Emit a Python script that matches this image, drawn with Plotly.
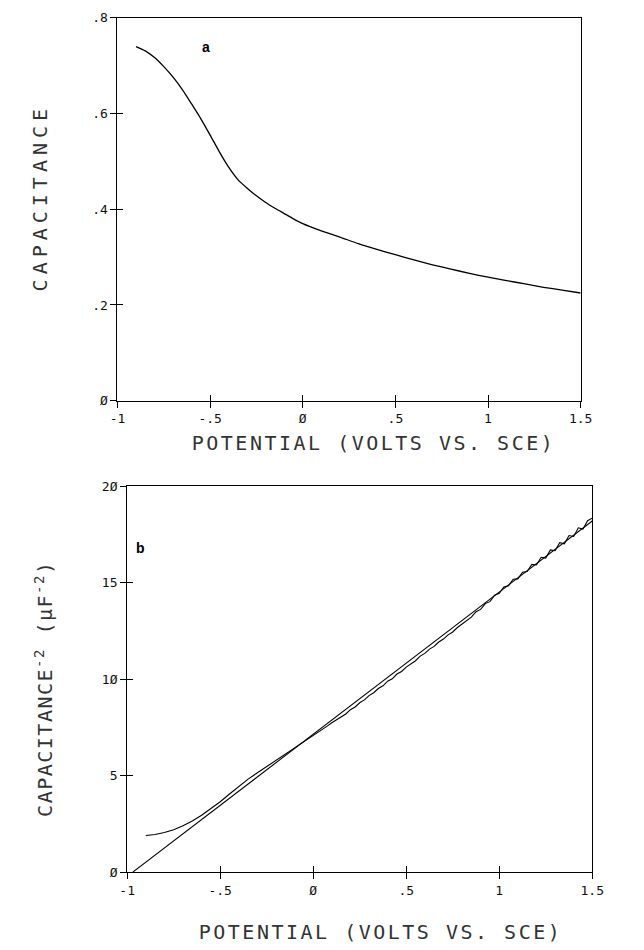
import plotly.graph_objects as go

# ---- data ----
pot_a = [-0.90, -0.85, -0.80, -0.75, -0.70, -0.65, -0.60, -0.55, -0.50, -0.45,
         -0.40, -0.35, -0.30, -0.25, -0.20, -0.15, -0.10, -0.05, 0.00, 0.10,
         0.20, 0.30, 0.40, 0.50, 0.60, 0.70, 0.80, 0.90, 1.00, 1.10,
         1.20, 1.30, 1.40, 1.50]
cap_a = [0.740, 0.731, 0.717, 0.698, 0.676, 0.650, 0.620, 0.589, 0.555, 0.520,
         0.488, 0.462, 0.444, 0.428, 0.414, 0.402, 0.391, 0.380, 0.370, 0.355,
         0.342, 0.328, 0.316, 0.305, 0.294, 0.284, 0.275, 0.266, 0.258, 0.251,
         0.244, 0.237, 0.231, 0.225]

pot_b = [-0.90, -0.85, -0.80, -0.75, -0.70, -0.65, -0.60, -0.55, -0.50, -0.45,
         -0.40, -0.35, -0.30, -0.25, -0.20, -0.15, -0.10, -0.05,
         0.000, 0.025, 0.050, 0.075, 0.100, 0.125, 0.150, 0.175, 0.200, 0.225,
         0.250, 0.275, 0.300, 0.325, 0.350, 0.375, 0.400, 0.425, 0.450, 0.475,
         0.500, 0.525, 0.550, 0.575, 0.600, 0.625, 0.650, 0.675, 0.700, 0.725,
         0.750, 0.775, 0.800, 0.825, 0.850, 0.875, 0.900, 0.925, 0.950, 0.975,
         1.000, 1.025, 1.050, 1.075, 1.100, 1.125, 1.150, 1.175, 1.200, 1.225,
         1.250, 1.275, 1.300, 1.325, 1.350, 1.375, 1.400, 1.425, 1.450, 1.475,
         1.500]
invc2_b = [1.90, 1.95, 2.05, 2.20, 2.40, 2.65, 2.95, 3.30, 3.65, 4.05,
           4.45, 4.82, 5.15, 5.47, 5.80, 6.12, 6.45, 6.75,
           7.05, 7.22, 7.40, 7.57, 7.74, 7.88, 8.05, 8.20, 8.42, 8.56,
           8.78, 8.93, 9.15, 9.30, 9.52, 9.66, 9.90, 10.02, 10.27, 10.40,
           10.63, 10.80, 10.96, 11.20, 11.34, 11.56, 11.70, 11.93, 12.08, 12.30,
           12.45, 12.68, 12.86, 13.08, 13.22, 13.50, 13.62, 13.92, 14.02, 14.35,
           14.45, 14.78, 14.85, 15.18, 15.20, 15.55, 15.58, 15.95, 15.92, 16.32,
           16.28, 16.70, 16.66, 17.08, 17.02, 17.45, 17.40, 17.85, 17.78, 18.22,
           18.35]

fit_x = [-0.97, 1.50]
fit_y = [0.0, 18.2]

x_ticks = [-1, -0.5, 0, 0.5, 1, 1.5]
x_ticktext = ["-1", "-.5", "Ø", ".5", "1", "1.5"]
ya_ticks = [0, 0.2, 0.4, 0.6, 0.8]
ya_ticktext = ["Ø", ".2", ".4", ".6", ".8"]
yb_ticks = [0, 5, 10, 15, 20]
yb_ticktext = ["Ø", "5", "1Ø", "15", "2Ø"]

x_title = "POTENTIAL (VOLTS VS. SCE)"
ya_title = "CAPACITANCE"
yb_title = "CAPACITANCE<sup>-2</sup> (μF<sup>-2</sup>)"

W, H = 644, 950
def px_x(a, b):
    return [a / W, b / W]
def px_y(top, bot):
    return [1 - bot / H, 1 - top / H]

TICKFONT = dict(family="DejaVu Sans Mono", size=13, color="#111")
TITLEFONT = dict(family="DejaVu Sans Mono", size=20, color="#333")

fig = go.Figure()
fig.add_trace(go.Scatter(x=pot_a, y=cap_a, mode="lines",
                         line=dict(color="black", width=1.3, shape="spline", smoothing=0.6),
                         xaxis="x", yaxis="y", showlegend=False, hoverinfo="skip"))
fig.add_trace(go.Scatter(x=pot_b, y=invc2_b, mode="lines", line=dict(color="black", width=1.1),
                         xaxis="x2", yaxis="y2", showlegend=False, hoverinfo="skip"))
fig.add_trace(go.Scatter(x=fit_x, y=fit_y, mode="lines", line=dict(color="black", width=1.1),
                         xaxis="x2", yaxis="y2", showlegend=False, hoverinfo="skip"))
# empty helper traces so that the overlay tick axes (inner half of crossing ticks) are drawn
for xa, ya in [("x3", "y"), ("x", "y3"), ("x4", "y2"), ("x2", "y4")]:
    fig.add_trace(go.Scatter(x=[None], y=[None], xaxis=xa, yaxis=ya,
                             showlegend=False, hoverinfo="skip"))

dom_xa = px_x(113, 591)
dom_ya = px_y(11, 400)
dom_xb = px_x(123, 603)
dom_yb = px_y(487, 879)

base = dict(showgrid=False, zeroline=False, showline=True, mirror=True,
            linecolor="black", linewidth=1.2, ticks="outside", ticklen=6,
            tickwidth=1, tickcolor="black", tickfont=TICKFONT)
inner = dict(showgrid=False, zeroline=False, showline=False, ticks="inside",
             ticklen=6, tickwidth=1, tickcolor="black", showticklabels=False)

panel_font = dict(family="Liberation Sans", size=14, color="black")

fig.update_layout(
    width=W, height=H, margin=dict(l=0, r=0, t=0, b=0),
    paper_bgcolor="white", plot_bgcolor="white",
    xaxis=dict(base, domain=dom_xa, anchor="y", range=[-1, 1.5],
               tickvals=x_ticks, ticktext=x_ticktext),
    yaxis=dict(base, domain=dom_ya, anchor="x", range=[0, 0.8],
               tickvals=ya_ticks, ticktext=ya_ticktext),
    xaxis2=dict(base, domain=dom_xb, anchor="y2", range=[-1, 1.5],
                tickvals=x_ticks, ticktext=x_ticktext),
    yaxis2=dict(base, domain=dom_yb, anchor="x2", range=[0, 20],
                tickvals=yb_ticks, ticktext=yb_ticktext),
    xaxis3=dict(inner, overlaying="x", anchor="y", range=[-1, 1.5], tickvals=x_ticks),
    yaxis3=dict(inner, overlaying="y", anchor="x", range=[0, 0.8], tickvals=ya_ticks),
    xaxis4=dict(inner, overlaying="x2", anchor="y2", range=[-1, 1.5], tickvals=x_ticks),
    yaxis4=dict(inner, overlaying="y2", anchor="x2", range=[0, 20], tickvals=yb_ticks),
    annotations=[
        dict(text="<b>a</b>", x=-0.52, y=0.74, xref="x", yref="y", showarrow=False, font=panel_font),
        dict(text="<b>b</b>", x=-0.93, y=16.8, xref="x2", yref="y2", showarrow=False, font=panel_font),
        # axis titles (indices 2..5)
        dict(text=x_title, x=377 / W, y=1 - 443 / H, xref="paper", yref="paper",
             xanchor="center", yanchor="middle", showarrow=False, font=TITLEFONT),
        dict(text=x_title, x=384 / W, y=1 - 940 / H, xref="paper", yref="paper",
             xanchor="center", yanchor="middle", showarrow=False, font=TITLEFONT),
        dict(text=ya_title, x=33 / W, y=1 - 194 / H, xref="paper", yref="paper", textangle=-90,
             xanchor="center", yanchor="middle", showarrow=False, font=TITLEFONT),
        dict(text=yb_title, x=37 / W, y=1 - 693 / H, xref="paper", yref="paper", textangle=-90,
             xanchor="center", yanchor="middle", showarrow=False, font=TITLEFONT),
    ],
)

post = """
var gd = document.getElementById('{plot_id}');
function spaceTitles(){
  var spec = [[2,'2.5px'],[3,'2.5px'],[4,'5px'],[5,'1.5px']];
  spec.forEach(function(s){
    gd.querySelectorAll('.annotation[data-index="' + s[0] + '"] text').forEach(function(t){
      t.setAttribute('letter-spacing', s[1]);
    });
  });
}
spaceTitles();
if (gd.on) { gd.on('plotly_afterplot', spaceTitles); }
"""

fig.write_html("out.html", post_script=post)
